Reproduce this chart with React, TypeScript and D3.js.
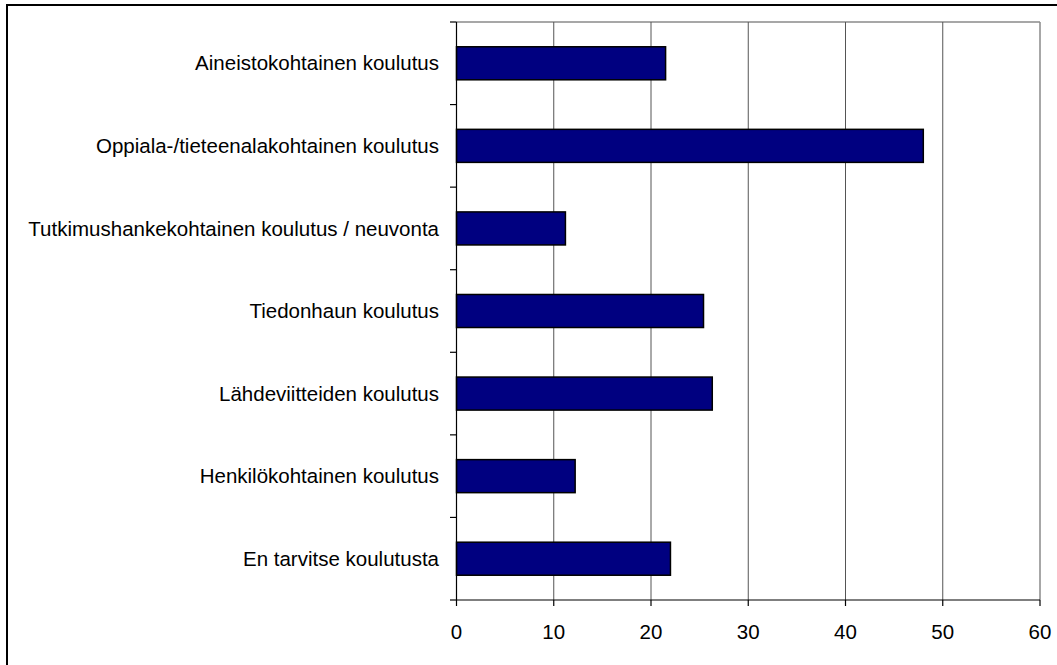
import React from "react";
import * as d3 from "d3";

const categories = [
  "Aineistokohtainen koulutus",
  "Oppiala-/tieteenalakohtainen koulutus",
  "Tutkimushankekohtainen koulutus / neuvonta",
  "Tiedonhaun koulutus",
  "Lähdeviitteiden koulutus",
  "Henkilökohtainen koulutus",
  "En tarvitse koulutusta",
];
const values = [21.5, 48.0, 11.2, 25.4, 26.3, 12.2, 22.0];
const xTicks = [0, 10, 20, 30, 40, 50, 60];

const W = 1057;
const H = 665;
const plot = { left: 456.5, right: 1040, top: 22, bottom: 600 };
const FONT = "'Liberation Sans', Arial, sans-serif";

export default function App() {
  const x = d3.scaleLinear().domain([0, 60]).range([plot.left, plot.right]);
  const y = d3
    .scaleBand<string>()
    .domain(categories)
    .range([plot.top, plot.bottom])
    .paddingInner(0.6)
    .paddingOuter(0.3);
  const step = y.step();
  const boundaries = d3.range(categories.length + 1).map((i) => plot.top + i * ((plot.bottom - plot.top) / categories.length));

  return (
    <svg
      width={W}
      height={H}
      style={{ position: "absolute", left: 0, top: 0, background: "#fff" }}
      fontFamily={FONT}
    >
      <rect x={0} y={0} width={W} height={H} fill="#fff" />
      {/* outer chart border */}
      <rect x={7} y={5} width={1200} height={800} fill="none" stroke="#000" strokeWidth={2} />

      {/* plot area border (top & right) */}
      <line x1={plot.left} x2={plot.right} y1={plot.top} y2={plot.top} stroke="#8a8a8a" strokeWidth={1.5} />
      <line x1={plot.right} x2={plot.right} y1={plot.top} y2={plot.bottom} stroke="#8a8a8a" strokeWidth={1.5} />

      {/* gridlines */}
      {xTicks.slice(1, -1).map((t) => (
        <line key={"g" + t} x1={x(t)} x2={x(t)} y1={plot.top} y2={plot.bottom} stroke="#555" strokeWidth={1} />
      ))}

      {/* bars */}
      {categories.map((c, i) => (
        <rect
          key={c}
          x={x(0)}
          y={y(c)!}
          width={x(values[i]) - x(0)}
          height={y.bandwidth()}
          fill="#000080"
          stroke="#000"
          strokeWidth={1.5}
        />
      ))}

      {/* y axis */}
      <line x1={plot.left} x2={plot.left} y1={plot.top} y2={plot.bottom} stroke="#000" strokeWidth={1.2} />
      {boundaries.map((b, i) => (
        <line key={"yt" + i} x1={plot.left - 6.5} x2={plot.left} y1={b} y2={b} stroke="#000" strokeWidth={1.2} />
      ))}
      {categories.map((c) => (
        <text
          key={"l" + c}
          x={439}
          y={y(c)! + y.bandwidth() / 2}
          dy="0.35em"
          textAnchor="end"
          fontSize={20.5}
          fill="#000"
        >
          {c}
        </text>
      ))}

      {/* x axis */}
      <line x1={plot.left} x2={plot.right} y1={plot.bottom} y2={plot.bottom} stroke="#000" strokeWidth={1.2} />
      {xTicks.map((t) => (
        <g key={"xt" + t}>
          <line x1={x(t)} x2={x(t)} y1={plot.bottom} y2={plot.bottom + 6} stroke="#000" strokeWidth={1.2} />
          <text x={x(t)} y={639} textAnchor="middle" fontSize={20.5} fill="#000">
            {t}
          </text>
        </g>
      ))}
    </svg>
  );
}
